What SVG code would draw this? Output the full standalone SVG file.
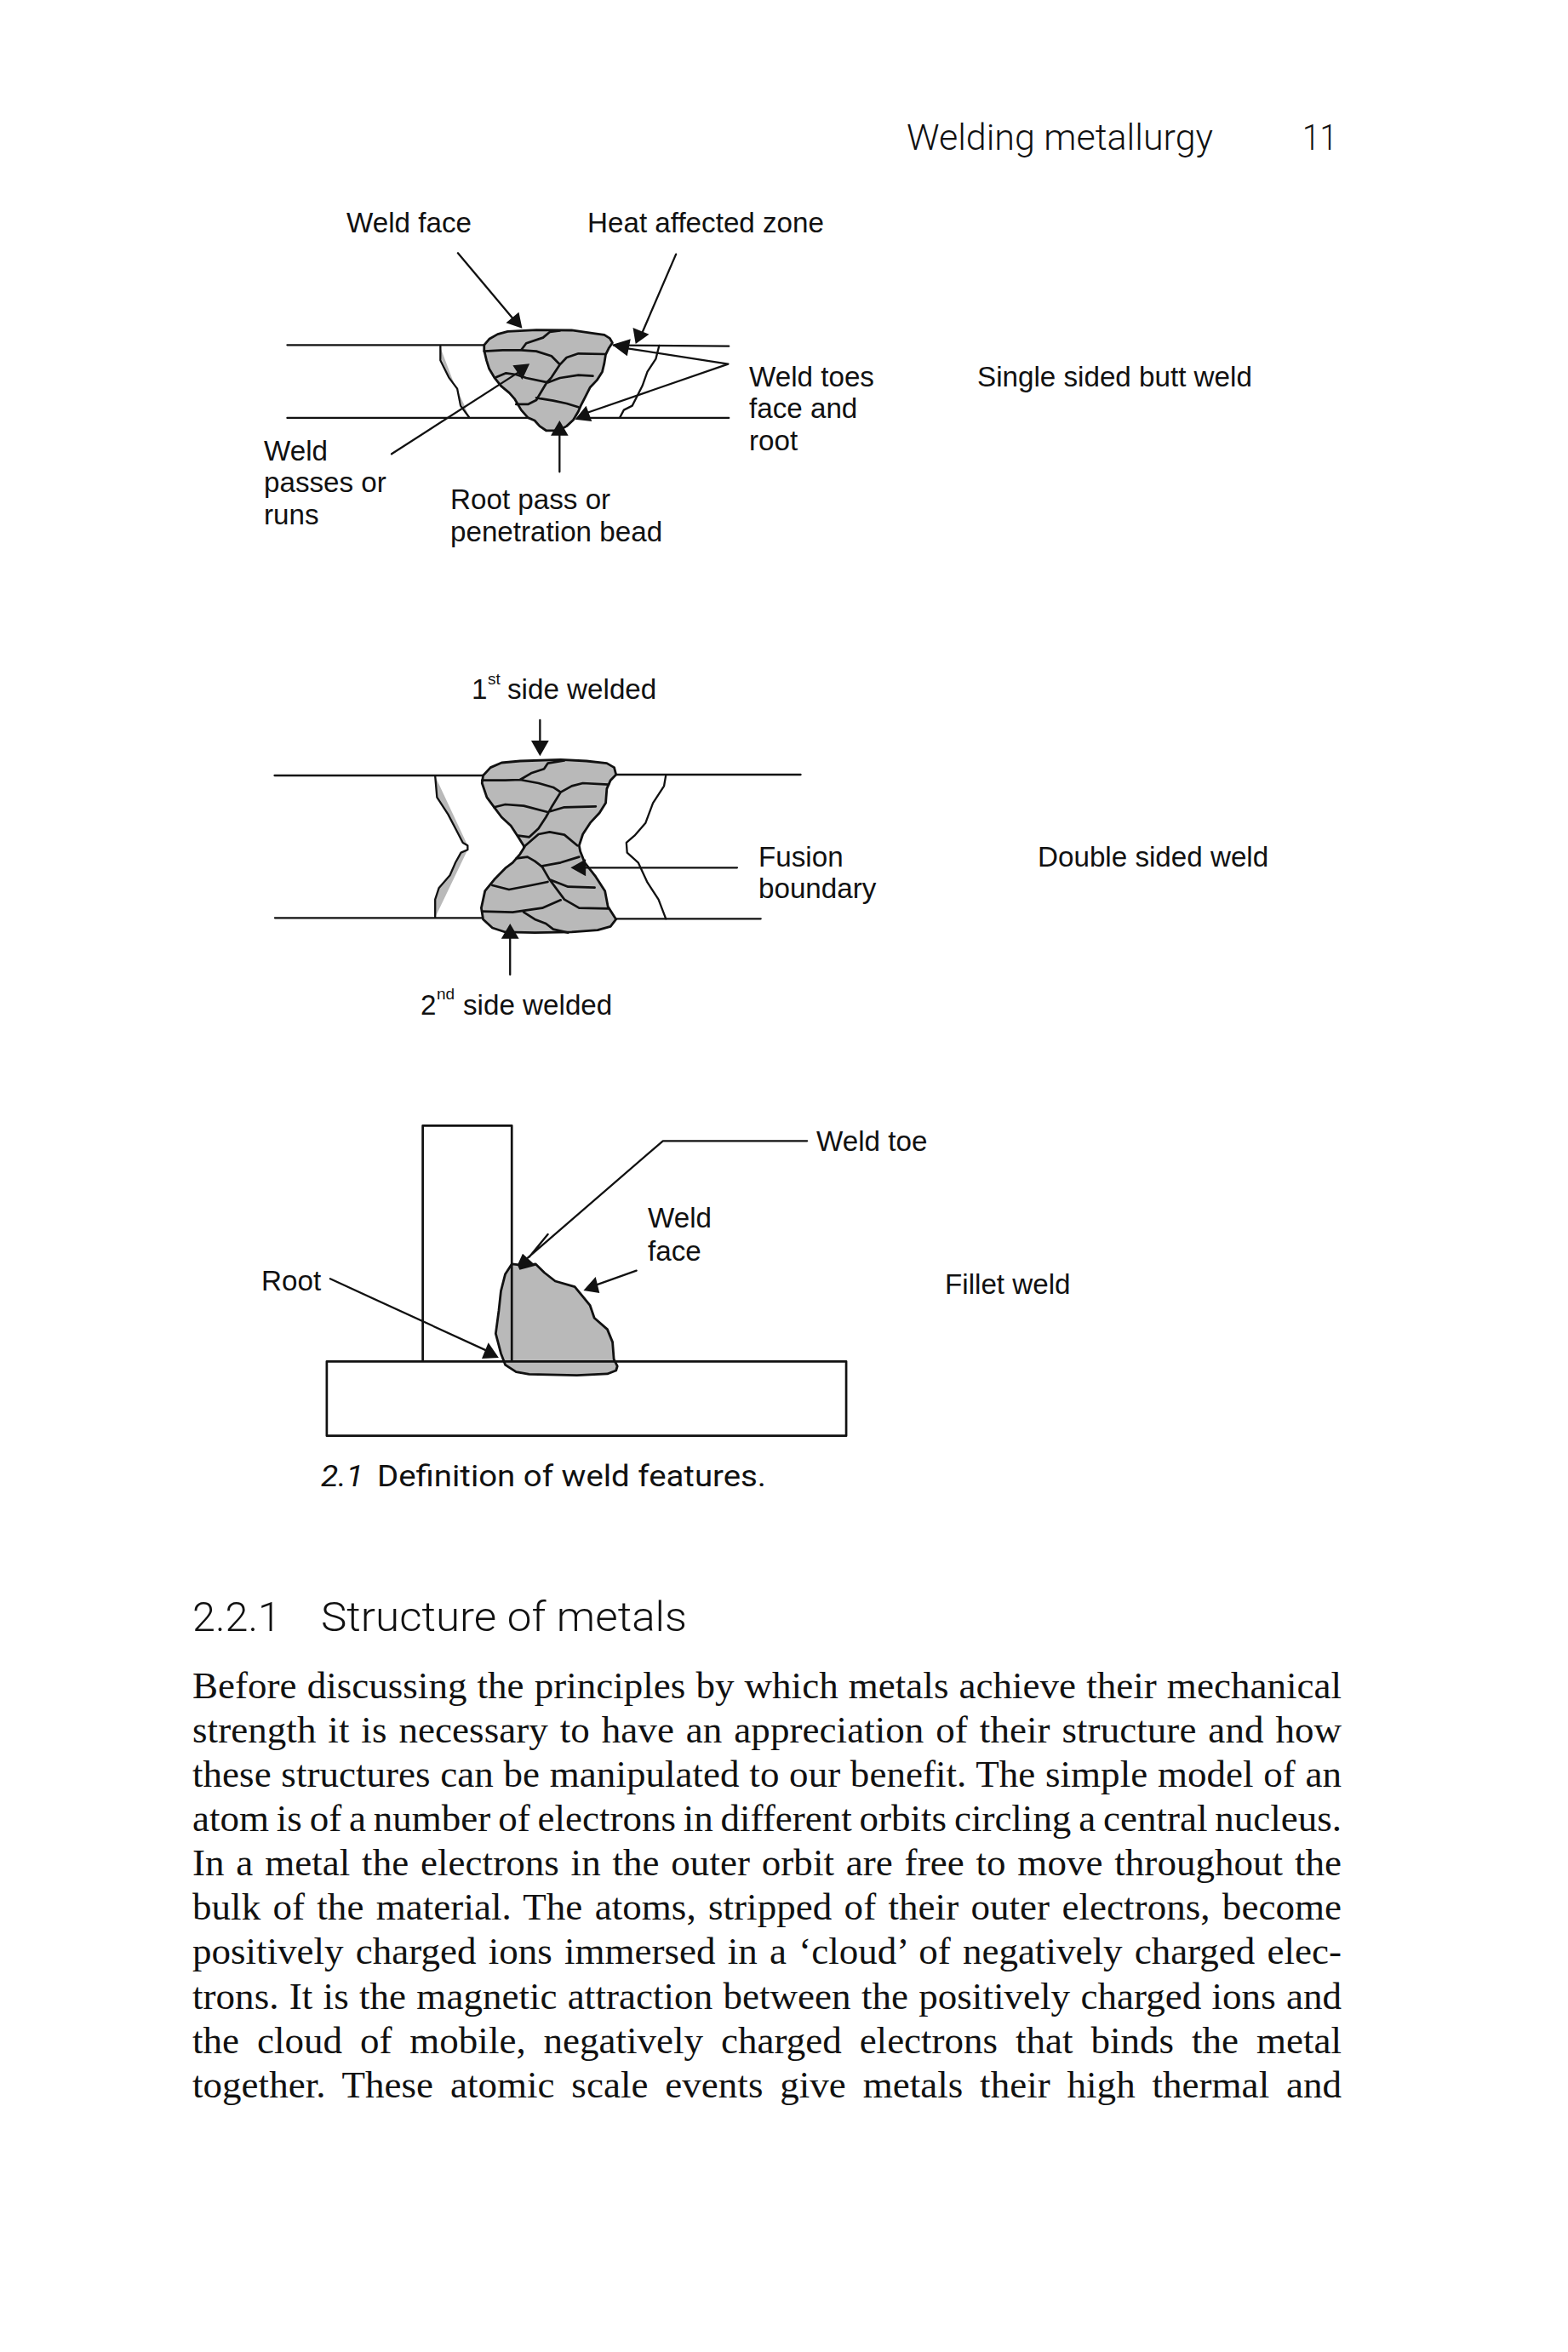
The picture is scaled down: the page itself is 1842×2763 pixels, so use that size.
<svg xmlns="http://www.w3.org/2000/svg" width="1842" height="2763" viewBox="0 0 1842 2763">
<style>
.l{font-family:"Liberation Sans",Arial,sans-serif;font-size:33.2px;fill:#111}
.s{font-size:19px}
.b{font-family:"Liberation Serif","Times New Roman",serif;font-size:45px;fill:#111}
.h{font-family:Roboto,"Open Sans",sans-serif;font-weight:300;fill:#111}
.ln{fill:none;stroke:#111;stroke-width:2.3;vector-effect:non-scaling-stroke;stroke-linejoin:round;stroke-linecap:round}
.th{stroke-width:2.7}
.w{fill:#b9b9b9;stroke:#111;stroke-width:2.8;vector-effect:non-scaling-stroke;stroke-linejoin:round}
.g{fill:#b9b9b9;stroke:none}
.a{fill:#111;stroke:none}
</style>
<rect width="1842" height="2763" fill="#fff"/>
<g id="header">
<text class="h" x="1065" y="176" font-size="42" textLength="360" lengthAdjust="spacingAndGlyphs">Welding metallurgy</text>
<text class="h" x="1530" y="176" font-size="42" textLength="41" lengthAdjust="spacingAndGlyphs">11</text>
</g>
<g id="single-sided-weld" transform="translate(290,220) scale(0.3954,0.3333)">
<path class="ln" d="M120,556H705M1090,557L1432,560M120,813H840M1000,813H1432"/>
<path class="g" d="M575,565L578,605L600,665L625,710L640,775L660,810L645,765L615,690Z"/>
<path class="ln" d="M575,560L575,610L600,670L625,710L635,770L660,810M1225,558L1215,605L1190,650L1175,700L1160,735L1145,770L1120,785L1108,812"/>
<path class="w" d="M705,556L720,535L745,518L775,508L860,503L965,504L1030,515L1062,520L1078,532L1086,548L1075,568L1066,590L1062,620L1056,650L1040,680L1020,705L1005,740L992,770L985,790L970,820L950,842L925,858L890,858L870,842L855,822L835,812L815,785L795,745L780,725L755,700L735,670L720,640L712,610L705,575Z"/>
<path class="ln th" d="M705,578L760,574L815,574L860,578L905,595L930,625M815,574L830,550L880,530L900,510L930,505M930,625L950,600L985,586L1065,588M930,625L905,670L890,690L870,730L860,750L835,765L800,765M740,670L770,655L800,660L830,672L895,688M895,688L930,672L985,662L1028,665M860,742L910,752L950,762L985,775"/>
</g>
<g id="connectors-single">
<g transform="translate(290,220) scale(0.3954,0.3333)">
<path class="ln" d="M627,232L790,462M1275,236L1170,525M1115,565L1430,623L1010,795M929,1003V870M430,940L810,650"/>
<path class="a" d="M818,497L770,478L808,440ZM1155,552L1147,495L1195,518ZM1085,555L1140,535L1130,595ZM975,818L1008,770L1025,825ZM929,822L903,875H955ZM840,622L790,628L818,678Z"/>
</g>
</g>
<g id="single-labels">
<text class="l" x="407" y="273">Weld face</text>
<text class="l" x="690" y="273">Heat affected zone</text>
<text class="l" x="880" y="454">Weld toes</text>
<text class="l" x="880" y="491">face and</text>
<text class="l" x="880" y="529">root</text>
<text class="l" x="310" y="541">Weld</text>
<text class="l" x="310" y="578">passes or</text>
<text class="l" x="310" y="616">runs</text>
<text class="l" x="529" y="598">Root pass or</text>
<text class="l" x="529" y="636">penetration bead</text>
<text class="l" x="1148" y="454">Single sided butt weld</text>
</g>
<g id="double-sided-weld" transform="translate(290,780) scale(0.4337,0.3333)">
<path class="ln" d="M75,393H640M1000,390H1500M76,895H638M1000,898H1392"/>
<path class="g" d="M510,395L598,640V655L510,893L510,830L520,790L550,745L565,700L580,665L598,655V640L585,630L565,580L545,530L515,470Z"/>
<path class="ln" d="M510,395L515,470L545,530L565,580L585,630L598,640V655L580,665L565,700L550,745L520,790L510,830V893M1135,392L1130,430L1100,490L1080,560L1050,605L1028,630L1030,665L1060,700L1085,770L1115,830L1135,898"/>
<path class="w" d="M640,393L660,365L690,348L740,342L850,337L920,342L975,350L995,365L1000,390L985,410L975,440L972,490L955,525L930,560L910,600L900,640L903,660L915,700L945,750L970,800L978,855L1000,900L985,925L950,938L880,945L780,947L700,945L665,930L640,900L635,860L645,800L670,760L700,720L720,700L740,670L752,645L735,610L715,570L690,540L670,505L650,470L637,420Z"/>
<path class="ln th" d="M637,410L700,410L740,408L790,420L830,435L850,452M740,408L770,385L805,370L815,350L860,340M850,452L880,430L910,420L980,425M850,452L825,505L810,540L790,580L765,610L735,605M670,505L700,495L750,500L815,522M815,522L860,505L945,502M750,645L790,600L820,592L860,602L895,640M730,685L760,680L780,695L800,715L820,760L860,830L900,860L980,862M800,712L850,700L900,680M820,760L870,785L942,788M665,780L710,795L770,780L815,768M637,872L720,875L800,860L850,832M750,875L780,900L810,915L830,935L870,947"/>
</g>
<g id="connectors-double">
<g transform="translate(290,780) scale(0.4337,0.3333)">
<path class="ln" d="M794,198V275M713,1095V965M1328,718H915"/>
<path class="a" d="M794,325L770,270H818ZM713,915L689,968H737ZM877,718L918,688V748Z"/>
</g>
</g>
<g id="double-labels">
<text class="l" x="554" y="821">1</text><text class="l s" x="573" y="804">st</text><text class="l" x="596" y="821">side welded</text>
<text class="l" x="494" y="1192">2</text><text class="l s" x="513" y="1174">nd</text><text class="l" x="544" y="1192">side welded</text>
<text class="l" x="891" y="1018">Fusion</text>
<text class="l" x="891" y="1055">boundary</text>
<text class="l" x="1219" y="1018">Double sided weld</text>
</g>
<g id="fillet-weld" transform="translate(290,1300) scale(0.5102,0.3333)">
<path class="w" d="M610,555L595,590L585,650L580,720L573,800L585,870L595,910L620,935L650,943L760,947L830,942L850,930L853,915L845,890L842,830L830,785L800,745L790,700L755,635L710,615L685,585L665,555L640,560Z"/>
<path class="ln th" d="M405,898V67H610V898M184,898H1380V1160H184Z"/>
</g>
<g id="connectors-fillet">
<g transform="translate(290,1300) scale(0.5102,0.3333)">
<path class="ln" d="M1290,121H958L645,535M693,450L650,530M192,607L552,860M897,578L805,628"/>
<path class="a" d="M623,558L635,518L665,560L628,575ZM580,885L556,832L541,888ZM775,648L803,600L812,657Z"/>
</g>
</g>
<g id="fillet-labels">
<text class="l" x="959" y="1352">Weld toe</text>
<text class="l" x="761" y="1442">Weld</text>
<text class="l" x="761" y="1481">face</text>
<text class="l" x="307" y="1516">Root</text>
<text class="l" x="1110" y="1520">Fillet weld</text>
</g>
<g id="caption">
<text class="h" style="font-weight:400;font-style:italic" x="377" y="1746" font-size="35" textLength="50" lengthAdjust="spacingAndGlyphs">2.1</text>
<text class="h" style="font-weight:400" x="443" y="1746" font-size="35" textLength="457" lengthAdjust="spacingAndGlyphs">Definition of weld features.</text>
</g>
<g id="section-heading">
<text class="h" x="226" y="1916" font-size="49" textLength="104" lengthAdjust="spacingAndGlyphs">2.2.1</text>
<text class="h" x="377" y="1916" font-size="49" textLength="430" lengthAdjust="spacingAndGlyphs">Structure of metals</text>
</g>
<g id="body">
<text class="b" x="226" y="1995" word-spacing="0.8" textLength="1350" lengthAdjust="spacing">Before discussing the principles by which metals achieve their mechanical</text>
<text class="b" x="226" y="2047" word-spacing="2.6" textLength="1350" lengthAdjust="spacing">strength it is necessary to have an appreciation of their structure and how</text>
<text class="b" x="226" y="2099" word-spacing="0.4" textLength="1350" lengthAdjust="spacing">these structures can be manipulated to our benefit. The simple model of an</text>
<text class="b" x="226" y="2151" word-spacing="-2.4" textLength="1350" lengthAdjust="spacing">atom is of a number of electrons in different orbits circling a central nucleus.</text>
<text class="b" x="226" y="2203" word-spacing="2.5" textLength="1350" lengthAdjust="spacing">In a metal the electrons in the outer orbit are free to move throughout the</text>
<text class="b" x="226" y="2255" word-spacing="3" textLength="1350" lengthAdjust="spacing">bulk of the material. The atoms, stripped of their outer electrons, become</text>
<text class="b" x="226" y="2307" word-spacing="3" textLength="1350" lengthAdjust="spacing">positively charged ions immersed in a ‘cloud’ of negatively charged elec-</text>
<text class="b" x="226" y="2360" word-spacing="1" textLength="1350" lengthAdjust="spacing">trons. It is the magnetic attraction between the positively charged ions and</text>
<text class="b" x="226" y="2412" word-spacing="9.7" textLength="1350" lengthAdjust="spacing">the cloud of mobile, negatively charged electrons that binds the metal</text>
<text class="b" x="226" y="2464" word-spacing="8.5" textLength="1350" lengthAdjust="spacing">together. These atomic scale events give metals their high thermal and</text>
</g>
</svg>
